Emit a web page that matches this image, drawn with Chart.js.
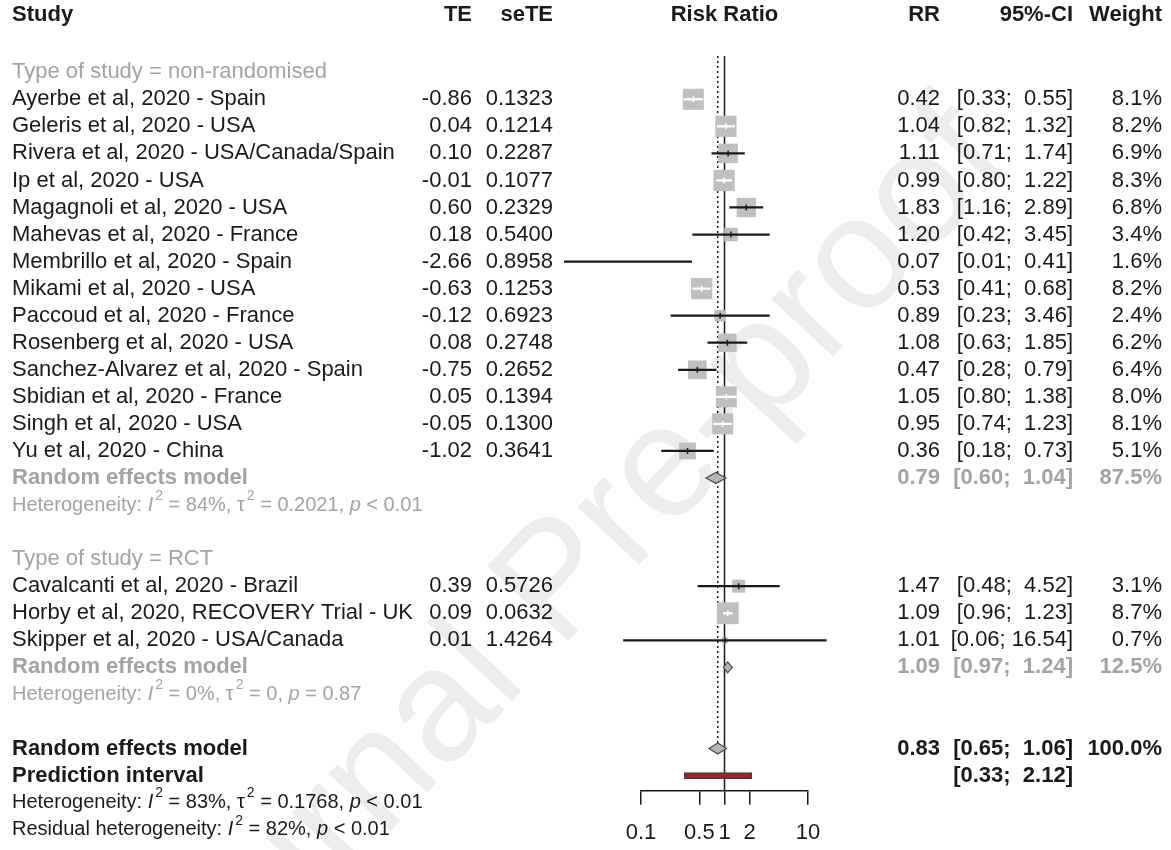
<!DOCTYPE html>
<html>
<head>
<meta charset="utf-8">
<script src="https://cdn.jsdelivr.net/npm/chart.js@4.4.1/dist/chart.umd.min.js"></script>
<style>
  body { margin: 0; background: #fff; }
  canvas { display: block; }
</style>
</head>
<body>
<canvas id="forest" width="1171" height="850"></canvas>
<script>
// ---- data ----
const studyLabels = [
    'Ayerbe et al, 2020 - Spain',
    'Geleris et al, 2020 - USA',
    'Rivera et al, 2020 - USA/Canada/Spain',
    'Ip et al, 2020 - USA',
    'Magagnoli et al, 2020 - USA',
    'Mahevas et al, 2020 - France',
    'Membrillo et al, 2020 - Spain',
    'Mikami et al, 2020 - USA',
    'Paccoud et al, 2020 - France',
    'Rosenberg et al, 2020 - USA',
    'Sanchez-Alvarez et al, 2020 - Spain',
    'Sbidian et al, 2020 - France',
    'Singh et al, 2020 - USA',
    'Yu et al, 2020 - China',
    'Cavalcanti et al, 2020 - Brazil',
    'Horby et al, 2020, RECOVERY Trial - UK',
    'Skipper et al, 2020 - USA/Canada'
];
const studyTE = [-0.86, 0.04, 0.10, -0.01, 0.60, 0.18, -2.66, -0.63, -0.12, 0.08, -0.75, 0.05, -0.05, -1.02, 0.39, 0.09, 0.01];
const studySE = [0.1323, 0.1214, 0.2287, 0.1077, 0.2329, 0.5400, 0.8958, 0.1253, 0.6923, 0.2748, 0.2652, 0.1394, 0.1300, 0.3641, 0.5726, 0.0632, 1.4264];
const studyRR = [0.42, 1.04, 1.11, 0.99, 1.83, 1.20, 0.07, 0.53, 0.89, 1.08, 0.47, 1.05, 0.95, 0.36, 1.47, 1.09, 1.01];
const studyLower = [0.33, 0.82, 0.71, 0.80, 1.16, 0.42, 0.01, 0.41, 0.23, 0.63, 0.28, 0.80, 0.74, 0.18, 0.48, 0.96, 0.06];
const studyUpper = [0.55, 1.32, 1.74, 1.22, 2.89, 3.45, 0.41, 0.68, 3.46, 1.85, 0.79, 1.38, 1.23, 0.73, 4.52, 1.23, 16.54];
const studyWeight = [8.1, 8.2, 6.9, 8.3, 6.8, 3.4, 1.6, 8.2, 2.4, 6.2, 6.4, 8.0, 8.1, 5.1, 3.1, 8.7, 0.7];
const studyRows = [1, 2, 3, 4, 5, 6, 7, 8, 9, 10, 11, 12, 13, 14, 19, 20, 21];

const groupLabels = ['Type of study = non-randomised', 'Type of study = RCT'];
const groupRows = [0, 18];

const summaryRows = [15, 22, 25];
const summaryEst = [0.79, 1.09, 0.83];
const summaryLower = [0.60, 0.97, 0.65];
const summaryUpper = [1.04, 1.24, 1.06];
const summaryWeight = ['87.5%', '12.5%', '100.0%'];
const summaryGrey = [true, true, false];

const predictionRow = 26;
const predictionLower = 0.33;
const predictionUpper = 2.12;

// heterogeneity lines: [text, style] where style i = italic, s = superscript
const hetRows = [16, 23, 27, 28];
const hetGrey = [true, true, false, false];
const hetTexts = [
    [['Heterogeneity: ', ''], ['I', 'i'], ['2', 's'], [' = 84%, ', ''], ['\u03c4', ''], ['2', 's'], [' = 0.2021, ', ''], ['p', 'i'], [' < 0.01', '']],
    [['Heterogeneity: ', ''], ['I', 'i'], ['2', 's'], [' = 0%, ', ''], ['\u03c4', ''], ['2', 's'], [' = 0, ', ''], ['p', 'i'], [' = 0.87', '']],
    [['Heterogeneity: ', ''], ['I', 'i'], ['2', 's'], [' = 83%, ', ''], ['\u03c4', ''], ['2', 's'], [' = 0.1768, ', ''], ['p', 'i'], [' < 0.01', '']],
    [['Residual heterogeneity: ', ''], ['I', 'i'], ['2', 's'], [' = 82%, ', ''], ['p', 'i'], [' < 0.01', '']]
];

const xTicks = [0.1, 0.5, 1, 2, 10];
const xTickLabels = ['0.1', '0.5', '1', '2', '10'];

// ---- layout ----
const FAMILY = '"Liberation Sans", Arial, Helvetica, sans-serif';
const BLACK = '#1a1a1a';
const GREY = '#a3a3a3';
const COL = { study: 12, te: 472, se: 553, rr: 940, ci: 1073, w: 1162 };
const HEADER_ROW = -2.1;
const AXIS_ROW = 26.56;
const LINE_TOP_ROW = -0.6;

function font(size, bold, italic) {
    return (italic ? 'italic ' : '') + (bold ? 'bold ' : '') + size + 'px ' + FAMILY;
}

function ciLow(i) { return Math.exp(studyTE[i] - 1.96 * studySE[i]); }
function ciHigh(i) { return Math.exp(studyTE[i] + 1.96 * studySE[i]); }
function squareSide(i) { return 7.4 * Math.sqrt(studyWeight[i]); }

function ciText(lo, hi) {
    let h = hi.toFixed(2);
    while (h.length < 5) h = ' ' + h;
    return '[' + lo.toFixed(2) + '; ' + h + ']';
}

// CI drawn white when it fits inside the square
function ciInside(chart, i) {
    const x = chart.scales.x;
    if (i === undefined || !x) return false;
    return x.getPixelForValue(ciHigh(i)) - x.getPixelForValue(ciLow(i)) <= squareSide(i);
}

function text(ctx, str, x, y, align, f, color) {
    ctx.font = f;
    ctx.fillStyle = color;
    ctx.textAlign = align;
    ctx.textBaseline = 'middle';
    ctx.fillText(str, x, y);
}

function richText(ctx, parts, x, y, size, color) {
    let cx = x;
    ctx.fillStyle = color;
    ctx.textAlign = 'left';
    ctx.textBaseline = 'middle';
    parts.forEach(function(p) {
        if (p[1] === 's') {
            ctx.font = font(Math.round(size * 0.7));
            ctx.fillText(p[0], cx + 2, y - size * 0.45);
            cx += ctx.measureText(p[0]).width + 2;
        } else {
            ctx.font = font(size, false, p[1] === 'i');
            ctx.fillText(p[0], cx, y);
            cx += ctx.measureText(p[0]).width;
        }
    });
}

const watermark = {
    id: 'watermark',
    beforeDraw(chart) {
        const ctx = chart.ctx;
        ctx.save();
        ctx.translate(560, 585);
        ctx.rotate(-47 * Math.PI / 180);
        text(ctx, 'Journal Pre-proof', 0, 0, 'center', font(160), '#ededed');
        ctx.restore();
    }
};

const refLines = {
    id: 'refLines',
    beforeDatasetsDraw(chart) {
        const { ctx, scales: { x, y } } = chart;
        const top = y.getPixelForValue(LINE_TOP_ROW);
        ctx.save();
        ctx.strokeStyle = BLACK;
        ctx.lineWidth = 1.5;
        const x1 = x.getPixelForValue(1);
        ctx.beginPath();
        ctx.moveTo(x1, top);
        ctx.lineTo(x1, y.getPixelForValue(AXIS_ROW));
        ctx.stroke();
        const xo = x.getPixelForValue(summaryEst[2]);
        ctx.setLineDash([2, 3]);
        ctx.beginPath();
        ctx.moveTo(xo, top);
        ctx.lineTo(xo, y.getPixelForValue(summaryRows[2]) - 5);
        ctx.stroke();
        ctx.restore();
    }
};

const diamonds = {
    id: 'diamonds',
    afterDatasetsDraw(chart) {
        const { ctx, scales: { x, y } } = chart;
        ctx.save();
        summaryRows.forEach(function(r, i) {
            const cy = y.getPixelForValue(r);
            const xe = x.getPixelForValue(summaryEst[i]);
            ctx.beginPath();
            ctx.moveTo(x.getPixelForValue(summaryLower[i]), cy);
            ctx.lineTo(xe, cy - 5.5);
            ctx.lineTo(x.getPixelForValue(summaryUpper[i]), cy);
            ctx.lineTo(xe, cy + 5.5);
            ctx.closePath();
            ctx.fillStyle = '#b5b5b5';
            ctx.fill();
            ctx.strokeStyle = '#4a4a4a';
            ctx.lineWidth = 1.2;
            ctx.stroke();
        });
        ctx.restore();
    }
};

const columns = {
    id: 'columns',
    afterDraw(chart) {
        const { ctx, scales: { x, y } } = chart;
        const row = r => y.getPixelForValue(r);
        ctx.save();

        // header
        const hy = row(HEADER_ROW);
        const hb = font(22, true);
        text(ctx, 'Study', COL.study, hy, 'left', hb, BLACK);
        text(ctx, 'TE', COL.te, hy, 'right', hb, BLACK);
        text(ctx, 'seTE', COL.se, hy, 'right', hb, BLACK);
        text(ctx, 'Risk Ratio', (x.left + x.right) / 2, hy, 'center', hb, BLACK);
        text(ctx, 'RR', COL.rr, hy, 'right', hb, BLACK);
        text(ctx, '95%-CI', COL.ci, hy, 'right', hb, BLACK);
        text(ctx, 'Weight', COL.w, hy, 'right', hb, BLACK);

        groupLabels.forEach(function(g, i) {
            text(ctx, g, COL.study, row(groupRows[i]), 'left', font(22), GREY);
        });

        const f = font(22);
        studyLabels.forEach(function(s, i) {
            const cy = row(studyRows[i]);
            text(ctx, s, COL.study, cy, 'left', f, BLACK);
            text(ctx, studyTE[i].toFixed(2), COL.te, cy, 'right', f, BLACK);
            text(ctx, studySE[i].toFixed(4), COL.se, cy, 'right', f, BLACK);
            text(ctx, studyRR[i].toFixed(2), COL.rr, cy, 'right', f, BLACK);
            text(ctx, ciText(studyLower[i], studyUpper[i]), COL.ci, cy, 'right', f, BLACK);
            text(ctx, studyWeight[i].toFixed(1) + '%', COL.w, cy, 'right', f, BLACK);
        });

        const fb = font(22, true);
        summaryRows.forEach(function(r, i) {
            const cy = row(r);
            const c = summaryGrey[i] ? GREY : BLACK;
            text(ctx, 'Random effects model', COL.study, cy, 'left', fb, c);
            text(ctx, summaryEst[i].toFixed(2), COL.rr, cy, 'right', fb, c);
            text(ctx, ciText(summaryLower[i], summaryUpper[i]), COL.ci, cy, 'right', fb, c);
            text(ctx, summaryWeight[i], COL.w, cy, 'right', fb, c);
        });

        const py = row(predictionRow);
        text(ctx, 'Prediction interval', COL.study, py, 'left', fb, BLACK);
        text(ctx, ciText(predictionLower, predictionUpper), COL.ci, py, 'right', fb, BLACK);

        hetTexts.forEach(function(parts, i) {
            richText(ctx, parts, COL.study, row(hetRows[i]), 20, hetGrey[i] ? GREY : BLACK);
        });
        ctx.restore();
    }
};

new Chart(document.getElementById('forest'), {
    type: 'bar',
    data: {
        datasets: [
            {
                // point estimate tick
                type: 'scatter',
                data: studyRows.map((r, i) => ({ x: Math.exp(studyTE[i]), y: r })),
                pointStyle: 'line',
                rotation: 90,
                radius: 3,
                borderWidth: 1.5,
                borderColor: ctx => ciInside(ctx.chart, ctx.dataIndex) ? '#ffffff' : BLACK,
                clip: false,
                order: 0
            },
            {
                // confidence intervals
                type: 'bar',
                indexAxis: 'y',
                data: studyRows.map((r, i) => ({ x: [ciLow(i), ciHigh(i)], y: r })),
                barThickness: 1.6,
                backgroundColor: ctx => ciInside(ctx.chart, ctx.dataIndex) ? '#ffffff' : BLACK,
                borderWidth: 0,
                skipNull: true,
                clip: false,
                order: 1
            },
            {
                // weight squares
                type: 'scatter',
                data: studyRows.map((r, i) => ({ x: Math.exp(studyTE[i]), y: r })),
                pointStyle: 'rect',
                radius: ctx => ctx.dataIndex === undefined ? 5 : squareSide(ctx.dataIndex) / Math.SQRT2,
                backgroundColor: '#bfbfbf',
                borderWidth: 0,
                clip: false,
                order: 2
            },
            {
                // prediction interval
                type: 'bar',
                indexAxis: 'y',
                data: [{ x: [predictionLower, predictionUpper], y: predictionRow }],
                barThickness: 6,
                backgroundColor: '#b01e1e',
                borderColor: '#3a3a3a',
                borderWidth: 1,
                borderSkipped: false,
                skipNull: true,
                clip: false,
                order: 3
            }
        ]
    },
    options: {
        responsive: false,
        animation: false,
        events: [],
        // axis box is 70.4px tall (14 tick + 26.4 label + 2*15 padding); put its line at y = 790.7
        layout: { padding: { left: 641, right: 363, top: 0, bottom: -11.1 } },
        plugins: {
            legend: { display: false },
            tooltip: { enabled: false }
        },
        scales: {
            x: {
                type: 'logarithmic',
                min: 0.1,
                max: 10,
                bounds: 'data',
                stacked: false,
                offset: false,
                position: 'bottom',
                afterBuildTicks: scale => { scale.ticks = xTicks.map(v => ({ value: v })); },
                ticks: {
                    autoSkip: false,
                    maxRotation: 0,
                    minRotation: 0,
                    padding: 15,
                    color: BLACK,
                    font: { family: FAMILY, size: 22 },
                    callback: (v, i) => xTickLabels[i]
                },
                grid: { drawOnChartArea: false, drawTicks: true, offset: false, tickLength: 14, color: BLACK, lineWidth: 1.5 },
                border: { display: true, color: BLACK, width: 1.5 }
            },
            y: {
                type: 'linear',
                display: false,
                reverse: true,
                offset: false,
                grid: { offset: false },
                bounds: 'data',
                min: -2.1,
                max: AXIS_ROW
            }
        }
    },
    plugins: [watermark, refLines, diamonds, columns]
});
</script>
</body>
</html>
